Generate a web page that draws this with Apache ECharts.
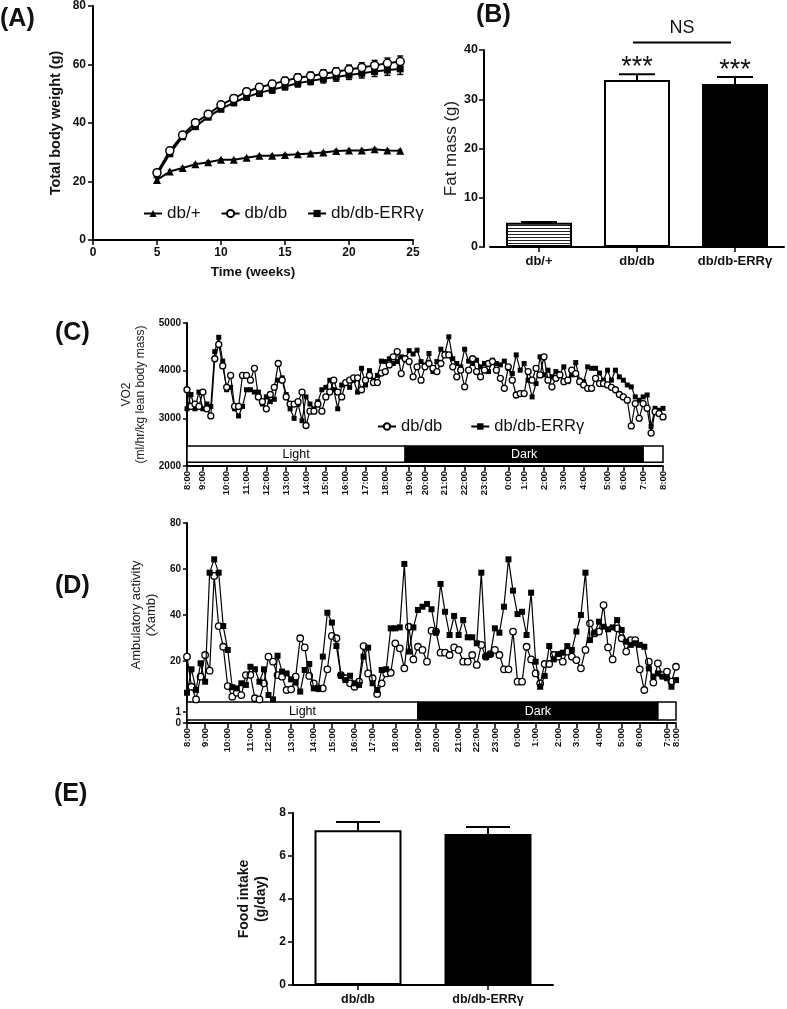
<!DOCTYPE html>
<html><head><meta charset="utf-8">
<script src="https://cdn.jsdelivr.net/npm/echarts@6/dist/echarts.min.js"></script>
<style>html,body{margin:0;padding:0;background:#fff}#c{width:787px;height:1009px}</style>
</head><body><div id="c"></div>
<script>
// ---------------- DATA ----------------
// (A) Total body weight
const weeks = [5,6,7,8,9,10,11,12,13,14,15,16,17,18,19,20,21,22,23,24];
const bwDbPlus = [20.5,23.4,24.6,25.9,26.6,27.4,27.4,28.1,28.8,28.8,29.1,29.3,29.6,29.9,30.4,30.6,30.6,31.0,30.6,30.5];
const bwDbDb  = [23.0,30.5,35.9,40.1,43.0,46.2,48.4,50.7,52.2,53.3,54.4,55.5,56.1,56.8,57.5,58.3,59.0,59.7,60.4,61.0];
const bwErr   = [22.3,29.5,35.3,38.8,42.1,44.8,47.0,48.9,50.3,51.4,52.5,53.6,54.4,55.1,55.7,56.4,57.0,57.6,58.1,58.5];
const bwSdDbPlus = [0.4,0.4,0.4,0.4,0.4,0.4,0.4,0.4,0.4,0.4,0.4,0.4,0.4,0.4,0.4,0.4,0.4,0.4,0.4,0.4];
const bwSdDbDb = [0.8,0.9,0.9,1.0,1.0,1.0,1.1,1.1,1.2,1.2,1.2,1.3,1.3,1.4,1.4,1.5,1.6,1.7,1.8,1.9];
const bwSdErr  = [0.8,0.9,0.9,1.0,1.0,1.0,1.1,1.1,1.2,1.2,1.2,1.3,1.3,1.4,1.4,1.5,1.6,1.7,1.8,1.9];

// (B) Fat mass
const fatCats = ['db/+','db/db','db/db-ERR\u03b3'];
const fatMean = [4.9, 33.9, 33.1];
const fatSem  = [0.2, 1.2, 1.4];
const fatStars = ['', '***', '***'];
const nsPair = [[1, 2]];
const nsText = 'NS';

// (C) VO2 (one point per ~12 min, 8:00 -> 8:00)
const vo2DbDb = [
3600,3250,3300,3250,3550,3200,3050,4250,4550,4100,
3650,3900,3250,3250,3900,3900,3800,4050,3450,3350,
3200,3500,3650,4150,3800,3450,3300,3300,3350,3550,
2850,3150,3150,3300,3150,3450,3550,3800,3550,3450,
3750,3800,3850,3850,3600,3800,3900,3750,3750,3950,
3980,4120,4290,4400,3940,4250,4190,3870,4080,3800,
4080,4150,4050,3980,4150,4330,4330,4080,3870,4010,
3660,4010,4250,3980,3870,4010,4150,4190,4010,3840,
3630,4080,3800,3490,3520,3520,3980,3800,4050,3910,
4290,3800,3660,3840,3910,3770,3800,4010,3940,3770,
3700,3630,3630,3840,3730,3730,3700,3650,3600,3500,
3450,3380,2840,3310,3000,3310,3210,2690,3140,3100,
3030];
const vo2Err = [
3200,3500,3200,3550,3200,3300,3250,4400,4700,4200,
3600,3650,3200,3050,3250,3600,3600,3550,3550,3300,
3450,3350,3400,3800,3850,3500,3200,3000,3300,2950,
3450,3300,3200,3350,3600,3650,3800,3600,3200,3700,
3750,3650,3800,3550,4050,3700,4000,3800,3900,4200,
4190,4250,4150,4190,4290,4250,4420,4350,4430,4190,
4120,4360,3980,4190,4450,4360,4710,4250,4150,4080,
4450,4200,4150,4220,4080,4150,3980,4220,4150,4120,
4200,4050,3940,4330,4010,4150,3800,3450,3730,4290,
3910,4010,3870,3980,3940,4080,3770,3910,4170,3800,
3770,4080,4050,4050,3950,3800,4010,3800,4010,3870,
3800,3700,3660,3450,3380,3450,3490,2830,3210,3170,
3210];
const hourLabels = ['8:00','9:00','10:00','11:00','12:00','13:00','14:00','15:00','16:00','17:00','18:00','19:00','20:00','21:00','22:00','23:00','0:00','1:00','2:00','3:00','4:00','5:00','6:00','7:00','8:00'];
const vo2HourIdx = [0,4,10,15,20,25,30,35,40,45,50,56,60,65,70,75,81,85,90,95,100,106,110,115,120];
const vo2Phases = [[0,55],[55,115],[115,120]];
const phaseLabels = ['Light','Dark',''];

// (D) Ambulatory activity
const ambDbDb = [
21.9,8.8,3.3,13.2,22.6,15.8,57,35.2,26.2,9.1,
4.5,6.2,5.2,13.9,14,3.8,3.3,10.3,21.9,19.7,
13.9,13.2,7.4,7.7,13.2,29.9,25.9,13.5,10.3,8.1,
8.1,16.4,30.9,29.9,13.9,12.5,10.3,8.8,11,26.5,
14.6,12.5,
5.7,10.3,14.6,14.9,27.7,25.5,16.8,34.9,20.7,26.2,
24.8,19.7,33.2,32.8,23.6,23.6,22.6,25.9,24.8,19.7,
19.7,22.6,18.3,27,21.9,23,24.8,22.6,16.4,16.4,
32.8,11,11,26.2,20.7,14.6,10.3,18.7,18.7,22.6,
21.9,19.7,24.1,21.9,20.4,16.8,24.8,36.4,32,32.8,
44.3,25.9,20.7,34.2,29.9,24.1,29.1,29.1,16.4,7.4,
19.7,10.6,19,13.9,15.4,11,17.5];
const ambErr = [
6.2,16.4,7.4,19,11,58.4,64.2,58.4,35.2,24.8,
8.6,8.1,10.3,9.6,17.5,16.4,11,16.4,5.2,3.3,
22.3,15.4,14.6,12,10.6,6.7,16.1,18.7,8.1,8.1,
21.9,41,36.7,26.5,13.6,11.7,13.6,10.3,9.6,21.9,
25.8,10.3,
7.4,16.1,16.4,34.2,34.2,34.6,62.2,24.1,34.6,42.2,
43.6,44.8,42.5,32.3,53.5,41.4,31.3,39.6,31.3,37.8,
30.3,30.3,27.7,58.4,21.9,23,34.2,32.3,43.6,64.2,
50.6,40.4,41.4,31.3,49.7,19.7,8.8,13.5,26.5,20.7,
23,23.6,26.5,24.8,32.8,40,58.4,29.1,32.3,37.1,
34.9,33.8,34.6,37.8,33.5,28.4,27,27.7,27,26.2,
16.8,13.2,14.6,13.2,12.5,8.8,11.7];
const ambHourIdx = [0,4,9,14,18,23,28,32,37,41,46,51,55,60,64,68,73,77,82,86,91,96,100,106,108];
const ambPhases = [[0,51],[51,104],[104,108]];

// (E) Food intake
const foodCats = ['db/db','db/db-ERR\u03b3'];
const foodMean = [7.2, 7.02];
const foodSem  = [0.38, 0.33];

// ---------------- STYLE / HELPERS ----------------
const FONT = '"Liberation Sans", Arial, Helvetica, sans-serif';
const BLACK = '#000';
const pat = document.createElement('canvas');
pat.width = 6; pat.height = 3;
(function(){ const g = pat.getContext('2d'); g.fillStyle='#fff'; g.fillRect(0,0,6,3); g.fillStyle='#222'; g.fillRect(0,0,6,1); })();
const fatFills = [{image: pat, repeat: 'repeat'}, '#fff', '#000'];
const foodFills = ['#fff', '#000'];
const phaseFills = ['#fff', '#000', '#fff'];
const phaseText = ['#000', '#fff', '#000'];

function axLine(w){ return {show:true, onZero:false, lineStyle:{color:BLACK, width:w||2}}; }
function axTick(len){ return {show:true, inside:false, length:len||5, lineStyle:{color:BLACK, width:1.5}}; }
function lbl(size, extra){ return Object.assign({color:'#111', fontSize:size, fontWeight:'bold', fontFamily:FONT}, extra||{}); }
const plain = (v)=>String(v);

// category time axis; tickIdx = where ticks go, labelIdx = which of them get a label here
function catAxis(n, hourIdx, grid, mode, labelIdx){
  const map = {}; hourIdx.forEach((k,i)=>{ map[k] = hourLabels[i]; });
  const data = []; for (let i=0;i<n;i++) data.push(String(i));
  const lset = {}; (labelIdx || hourIdx).forEach(k=>{ lset[k]=true; });
  const fmt = (v, i)=> { const k = Number(v); return map[k] !== undefined ? map[k] : (map[i] || ''); };
  const ax = {type:'category', gridIndex:grid, data:data, boundaryGap:false, position:'bottom', splitLine:{show:false}};
  if (mode === 'hidden') {
    ax.axisLine = {show:false}; ax.axisTick = {show:false}; ax.axisLabel = {show:false};
  } else {
    ax.axisLine = mode === 'labelsOnly' ? {show:false} : axLine(2);
    ax.axisTick = mode === 'labelsOnly' ? {show:false} :
      Object.assign(axTick(5), {interval:(i)=>map[i]!==undefined, customValues:hourIdx});
    ax.axisLabel = lbl(9.5, {rotate:90, margin:5, hideOverlap:false,
      interval:(i)=>!!lset[i], customValues:(labelIdx || hourIdx), formatter:fmt});
  }
  return ax;
}

function errBoth(cap){
  return function(params, api){
    const x=api.value(0), m=api.value(1), s=api.value(2);
    const hi=api.coord([x,m+s]), lo=api.coord([x,m-s]);
    const st={stroke:BLACK, lineWidth:1.5};
    return {type:'group', children:[
      {type:'line', shape:{x1:hi[0],y1:hi[1],x2:lo[0],y2:lo[1]}, style:st},
      {type:'line', shape:{x1:hi[0]-cap,y1:hi[1],x2:hi[0]+cap,y2:hi[1]}, style:st},
      {type:'line', shape:{x1:lo[0]-cap,y1:lo[1],x2:lo[0]+cap,y2:lo[1]}, style:st}
    ]};
  };
}
function errUp(cap, labels, fs){
  return function(params, api){
    const x=api.value(0), m=api.value(1), s=api.value(2);
    const b=api.coord([x,m]), t=api.coord([x,m+s]);
    const st={stroke:BLACK, lineWidth:2};
    const ch=[
      {type:'line', shape:{x1:b[0],y1:b[1],x2:t[0],y2:t[1]}, style:st},
      {type:'line', shape:{x1:t[0]-cap,y1:t[1],x2:t[0]+cap,y2:t[1]}, style:st}
    ];
    if (labels && labels[params.dataIndex]) ch.push({type:'text', x:t[0], y:t[1]+7,
      style:{text:labels[params.dataIndex], fill:'#111', fontSize:fs, fontFamily:FONT, align:'center', verticalAlign:'bottom'}});
    return {type:'group', children:ch};
  };
}
function phaseRender(yLo, yHi, labels, fs){
  return function(params, api){
    const i=params.dataIndex;
    const a=api.coord([api.value(0), yLo]), b=api.coord([api.value(1), yHi]);
    return {type:'group', children:[
      {type:'rect', shape:{x:a[0], y:b[1], width:b[0]-a[0], height:a[1]-b[1]},
       style:{fill:phaseFills[i], stroke:BLACK, lineWidth:1.5}},
      {type:'text', x:(a[0]+b[0])/2, y:(a[1]+b[1])/2,
       style:{text:labels[i], fill:phaseText[i], fontSize:fs, fontFamily:FONT, align:'center', verticalAlign:'middle'}}
    ]};
  };
}

const circleItem = {color:'#fff', borderColor:BLACK, borderWidth:1.5};
const squareItem = {color:BLACK, borderColor:BLACK, borderWidth:0};
const blackLine = (w)=>({color:BLACK, width:w});

const titles = [
  ['(A)', 0, 7], ['(B)', 476, 3], ['(C)', 55, 321], ['(D)', 55, 574], ['(E)', 54, 782]
].map(t=>({text:t[0], left:t[1], top:t[2], padding:0,
  textStyle:{fontSize:25, fontWeight:'bold', color:'#111', fontFamily:FONT}}));

const ambLabelMain = ambHourIdx.slice(0, ambHourIdx.length - 1);
const ambLabelLast = ambHourIdx.slice(ambHourIdx.length - 1);

const option = {
  animation:false,
  backgroundColor:'#fff',
  textStyle:{fontFamily:FONT},
  title: titles,
  legend: [
    {data:['db/+','db/db','db/db-ERR\u03b3'], left:138, top:200, itemGap:20, itemWidth:18, itemHeight:9,
     textStyle:{fontSize:17, color:'#111', fontFamily:FONT}, selectedMode:false},
    {data:['db/db','db/db-ERR\u03b3'], left:372, top:413, itemGap:28, itemWidth:18, itemHeight:8,
     textStyle:{fontSize:16.5, color:'#111', fontFamily:FONT}, selectedMode:false}
  ],
  grid: [
    {left:93, top:6, width:320, height:234},
    {left:490, top:50, width:294, height:197},
    {left:187, top:323, width:476, height:143},
    {left:187, top:523, width:489, height:184},
    {left:187, top:701, width:489, height:22},
    {left:293, top:813, width:260, height:172}
  ],
  xAxis: [
    {type:'value', gridIndex:0, min:0, max:25, interval:5, axisLine:axLine(2), axisTick:axTick(5),
     axisLabel:lbl(12,{margin:7}), splitLine:{show:false},
     name:'Time (weeks)', nameLocation:'middle', nameGap:25, nameTextStyle:lbl(13.5)},
    {type:'category', gridIndex:1, data:fatCats, axisLine:axLine(2), axisTick:Object.assign(axTick(5),{alignWithLabel:true}),
     axisLabel:lbl(13,{margin:8}), splitLine:{show:false}},
    catAxis(vo2DbDb.length, vo2HourIdx, 2, 'full'),
    catAxis(ambDbDb.length, ambHourIdx, 3, 'hidden'),
    catAxis(ambDbDb.length, ambHourIdx, 4, 'full', ambLabelMain),
    {type:'category', gridIndex:5, data:foodCats, axisLine:axLine(2), axisTick:Object.assign(axTick(5),{alignWithLabel:true}),
     axisLabel:lbl(12.5,{margin:8}), splitLine:{show:false}},
    catAxis(ambDbDb.length, ambHourIdx, 4, 'labelsOnly', ambLabelLast)
  ],
  yAxis: [
    {type:'value', gridIndex:0, min:0, max:80, interval:20, axisLine:axLine(2), axisTick:axTick(5),
     axisLabel:lbl(12,{margin:7}), splitLine:{show:false},
     name:'Total body weight (g)', nameLocation:'middle', nameGap:30, nameTextStyle:lbl(14.5)},
    {type:'value', gridIndex:1, min:0, max:40, interval:10, offset:6, axisLine:axLine(2), axisTick:axTick(5),
     axisLabel:lbl(12.5,{margin:6}), splitLine:{show:false},
     name:'Fat mass (g)', nameLocation:'middle', nameGap:24, nameTextStyle:lbl(17,{fontWeight:'normal', color:'#222'})},
    {type:'value', gridIndex:2, min:2000, max:5000, interval:1000, axisLine:axLine(2), axisTick:axTick(4),
     axisLabel:lbl(10,{margin:6, formatter:plain}), splitLine:{show:false},
     name:'VO2\n(ml/hr/kg lean body mass)', nameLocation:'middle', nameGap:27,
     nameTextStyle:lbl(12,{fontWeight:'normal', color:'#222', lineHeight:14})},
    {type:'value', gridIndex:3, min:0, max:80, interval:20, axisLine:axLine(2),
     axisTick:Object.assign(axTick(4),{customValues:[20,40,60,80]}),
     axisLabel:lbl(10,{margin:6, customValues:[20,40,60,80], formatter:(v)=> v===0?'':String(v)}), splitLine:{show:false},
     name:'Ambulatory activity\n(Xamb)', nameLocation:'middle', nameGap:26,
     nameTextStyle:lbl(13,{fontWeight:'normal', color:'#222', lineHeight:15})},
    {type:'value', gridIndex:4, min:0, max:2, interval:1, axisLine:axLine(2),
     axisTick:Object.assign(axTick(4),{customValues:[0,1]}),
     axisLabel:lbl(10,{margin:6, customValues:[0,1], formatter:(v)=> v===2?'':String(v)}), splitLine:{show:false}},
    {type:'value', gridIndex:5, min:0, max:8, interval:2, axisLine:axLine(2), axisTick:axTick(5),
     axisLabel:lbl(12,{margin:7}), splitLine:{show:false},
     name:'Food intake\n(g/day)', nameLocation:'middle', nameGap:23, nameTextStyle:lbl(14,{lineHeight:17})}
  ],
  series: [
    // (A)
    {type:'custom', name:'sdA1', xAxisIndex:0, yAxisIndex:0, z:1, renderItem:errBoth(3),
     data:weeks.map((w,i)=>[w,bwDbDb[i],bwSdDbDb[i]])},
    {type:'custom', name:'sdA2', xAxisIndex:0, yAxisIndex:0, z:1, renderItem:errBoth(3),
     data:weeks.map((w,i)=>[w,bwErr[i],bwSdErr[i]])},
    {type:'custom', name:'sdA0', xAxisIndex:0, yAxisIndex:0, z:1, renderItem:errBoth(2),
     data:weeks.map((w,i)=>[w,bwDbPlus[i],bwSdDbPlus[i]])},
    {type:'line', name:'db/+', xAxisIndex:0, yAxisIndex:0, z:3, data:weeks.map((w,i)=>[w,bwDbPlus[i]]),
     symbol:'triangle', symbolSize:8, lineStyle:blackLine(2), itemStyle:squareItem},
    {type:'line', name:'db/db-ERR\u03b3', xAxisIndex:0, yAxisIndex:0, z:3, data:weeks.map((w,i)=>[w,bwErr[i]]),
     symbol:'rect', symbolSize:7, lineStyle:blackLine(2), itemStyle:squareItem},
    {type:'line', name:'db/db', xAxisIndex:0, yAxisIndex:0, z:4, data:weeks.map((w,i)=>[w,bwDbDb[i]]),
     symbol:'circle', symbolSize:8, lineStyle:blackLine(2), itemStyle:circleItem},
    // (B)
    {type:'bar', xAxisIndex:1, yAxisIndex:1, barWidth:66, z:2,
     data:fatMean.map((v,i)=>({value:v, itemStyle:{color:fatFills[i], borderColor:BLACK, borderWidth:2}}))},
    {type:'custom', xAxisIndex:1, yAxisIndex:1, z:3, clip:false, renderItem:errUp(18, fatStars, 27),
     data:fatMean.map((v,i)=>[i,v,fatSem[i]])},
    {type:'custom', xAxisIndex:1, yAxisIndex:1, z:3, clip:false,
     renderItem:function(params, api){
       const a=api.coord([api.value(0), 41.5]), b=api.coord([api.value(1), 41.5]);
       return {type:'group', children:[
         {type:'line', shape:{x1:a[0]-4,y1:a[1],x2:b[0]-4,y2:b[1]}, style:{stroke:BLACK, lineWidth:2}},
         {type:'text', x:(a[0]+b[0])/2-4, y:a[1]-6, style:{text:nsText, fill:'#111', fontSize:18, fontFamily:FONT, align:'center', verticalAlign:'bottom'}}
       ]};
     }, data:nsPair},
    // (C)
    {type:'custom', xAxisIndex:2, yAxisIndex:2, z:2, renderItem:phaseRender(2080, 2420, phaseLabels, 12.5), data:vo2Phases},
    {type:'line', name:'db/db-ERR\u03b3', xAxisIndex:2, yAxisIndex:2, z:3, data:vo2Err, showAllSymbol:true,
     symbol:'rect', symbolSize:5, lineStyle:blackLine(1.2), itemStyle:squareItem},
    {type:'line', name:'db/db', xAxisIndex:2, yAxisIndex:2, z:4, data:vo2DbDb, showAllSymbol:true,
     symbol:'circle', symbolSize:6, lineStyle:blackLine(1.2), itemStyle:Object.assign({}, circleItem, {borderWidth:1.3})},
    // (D)
    {type:'custom', xAxisIndex:4, yAxisIndex:4, z:2, renderItem:phaseRender(0.27, 1.9, phaseLabels, 12.5), data:ambPhases},
    {type:'line', name:'db/db', xAxisIndex:3, yAxisIndex:3, z:3, data:ambDbDb, showAllSymbol:true,
     symbol:'circle', symbolSize:6.5, lineStyle:blackLine(1.2), itemStyle:Object.assign({}, circleItem, {borderWidth:1.3})},
    {type:'line', name:'db/db-ERR\u03b3', xAxisIndex:3, yAxisIndex:3, z:4, data:ambErr, showAllSymbol:true,
     symbol:'rect', symbolSize:6, lineStyle:blackLine(1.2), itemStyle:squareItem},
    // (E)
    {type:'bar', xAxisIndex:5, yAxisIndex:5, barWidth:87, z:2,
     data:foodMean.map((v,i)=>({value:v, itemStyle:{color:foodFills[i], borderColor:BLACK, borderWidth:2}}))},
    {type:'custom', xAxisIndex:5, yAxisIndex:5, z:3, clip:false, renderItem:errUp(22, null, 12),
     data:foodMean.map((v,i)=>[i,v,foodSem[i]])}
  ]
};
const chart = echarts.init(document.getElementById('c'), null, {renderer:'canvas'});
chart.setOption(option);
</script>
</body></html>
